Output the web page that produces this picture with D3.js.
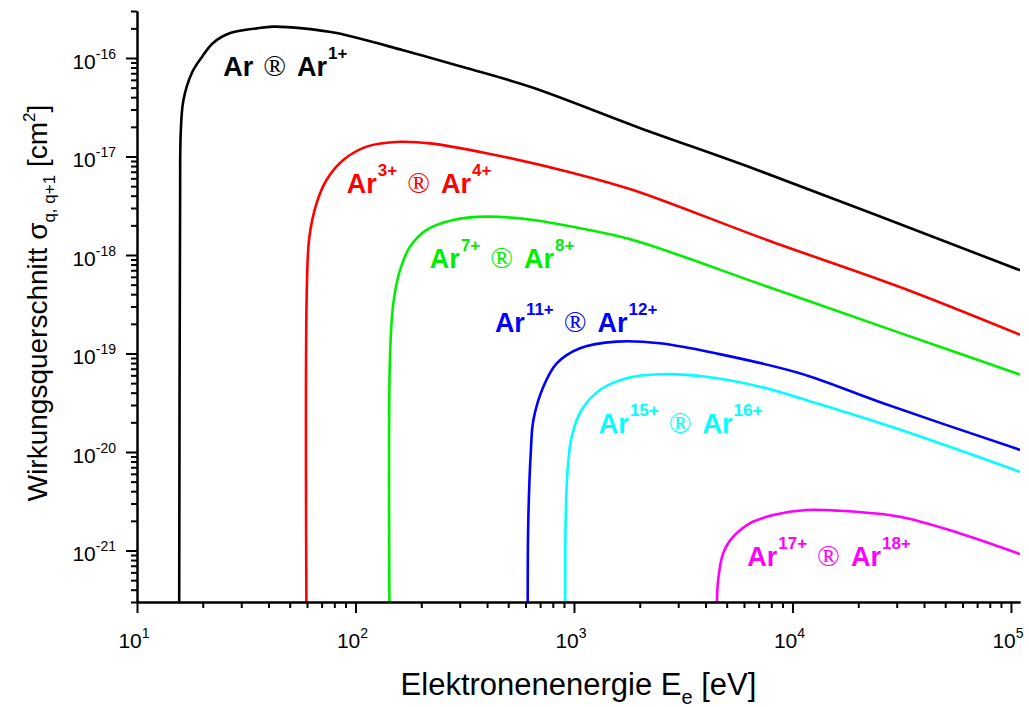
<!DOCTYPE html>
<html>
<head>
<meta charset="utf-8">
<script src="https://cdn.jsdelivr.net/npm/d3@7"></script>
<style>
  body { margin: 0; background: #fff; }
  text { font-family: "Liberation Sans", Arial, sans-serif; }
</style>
</head>
<body>
<div id="canvas"></div>
<script>
// electron energy [eV] and cross section [cm^2]
var eAr0  = [15.6, 15.75, 15.85, 16.3, 17.8, 19.8, 22.3, 26.7, 35.3, 41.9, 57.5, 82, 165, 310, 630, 2000, 6900, 110000];
var sAr0  = [3e-22, 3.6e-18, 1.7e-17, 3.7e-17, 7.0e-17, 1.02e-16, 1.42e-16, 1.79e-16, 2.0e-16, 2.08e-16, 2.0e-16, 1.79e-16, 1.2e-16, 8.1e-17, 5.1e-17, 1.95e-17, 7.3e-18, 7.0e-19];

var eAr3  = [59.6, 59.9, 61.5, 66.4, 73.7, 87.9, 112.5, 160, 219, 398, 989, 1862, 7640, 31000, 110000];
var sAr3  = [3e-22, 4.7e-19, 1.52e-18, 3.37e-18, 5.77e-18, 9.2e-18, 1.26e-17, 1.41e-17, 1.36e-17, 1.08e-17, 6.8e-18, 4.57e-18, 1.42e-18, 4.73e-19, 1.55e-19];

var eAr7  = [143, 144, 149, 160, 177.6, 211.5, 280, 398, 652, 1064, 1862, 7640, 31000, 110000];
var sAr7  = [3e-22, 1.0e-19, 3.23e-19, 7.05e-19, 1.21e-18, 1.80e-18, 2.27e-18, 2.45e-18, 2.27e-18, 1.87e-18, 1.42e-18, 4.79e-19, 1.62e-19, 6.1e-20];

var eAr11 = [614, 618, 634, 652, 724, 834, 1065, 1567, 2475, 4497, 10800, 26000, 110000];
var sAr11 = [3e-22, 2.04e-21, 9.7e-21, 2.11e-20, 4.6e-20, 7.94e-20, 1.13e-19, 1.32e-19, 1.27e-19, 1.0e-19, 6.3e-20, 3.12e-20, 1.05e-20];

var eAr15 = [912, 916, 935, 976, 1083, 1315, 1742, 2475, 4045, 7100, 12900, 31400, 110000];
var sAr15 = [3e-22, 2.04e-21, 6.56e-21, 1.43e-20, 2.67e-20, 4.26e-20, 5.6e-20, 6.15e-20, 5.81e-20, 4.6e-20, 3.12e-20, 1.67e-20, 6.3e-21];

var eAr17 = [4510, 4570, 4820, 5355, 6385, 8165, 11600, 16500, 31000, 58500, 110000];
var sAr17 = [3e-22, 5.0e-22, 9.4e-22, 1.38e-21, 1.89e-21, 2.29e-21, 2.58e-21, 2.53e-21, 2.2e-21, 1.49e-21, 9.2e-22];

// charge states (from -> to) for the labels
var qFrom = ["", "3+", "7+", "11+", "15+", "17+"];
var qTo   = ["1+", "4+", "8+", "12+", "16+", "18+"];
// label anchor in data units (energy, cross section)
var labelE   = [24.8, 91.2, 219, 434.5, 1300, 6210];
var labelSig = [6.56e-17, 4.28e-18, 7.33e-19, 1.66e-19, 1.55e-20, 6.97e-22];

var colors = ["#000000", "#ff0000", "#00ee00", "#0000ff", "#00ffff", "#ff00ff"];

var xTickExp = [1, 2, 3, 4, 5];
var yTickExp = [-21, -20, -19, -18, -17, -16];

var series = [
  d3.zip(eAr0, sAr0), d3.zip(eAr3, sAr3), d3.zip(eAr7, sAr7),
  d3.zip(eAr11, sAr11), d3.zip(eAr15, sAr15), d3.zip(eAr17, sAr17)
];

draw();

function draw(){
  var w = 1029, h = 707;
  var left = 137, right = 1020, top = 11, bottom = 602;

  var svg = d3.select("#canvas").append("svg")
    .attr("width", w)
    .attr("height", h);

  var x = d3.scaleLog().domain([10, 1.1e5]).range([left, right]);
  var y = d3.scaleLog().domain([3e-22, 3e-16]).range([bottom, top]);

  svg.append("clipPath").attr("id", "clip")
    .append("rect")
    .attr("x", left).attr("y", top - 5)
    .attr("width", right - left).attr("height", bottom - top + 5);

  // curves
  var line = d3.line()
    .x(function(d){ return x(d[0]); })
    .y(function(d){ return y(d[1]); })
    .curve(d3.curveCatmullRom.alpha(0.5));

  svg.append("g").attr("clip-path", "url(#clip)")
    .selectAll("path")
    .data(series)
    .join("path")
    .attr("d", line)
    .attr("fill", "none")
    .attr("stroke", function(d, i){ return colors[i]; })
    .attr("stroke-width", 2.6)
    .attr("stroke-linejoin", "round");

  // axes: minor ticks, then major ticks
  function isMajor(d){ return Math.abs(Math.log10(d) - Math.round(Math.log10(d))) < 1e-6; }
  var xt = x.ticks();
  var yt = y.ticks();

  function styleAxis(g){
    g.select(".domain").attr("stroke", "#000").attr("stroke-width", 2);
    g.selectAll(".tick line").attr("stroke", "#000").attr("stroke-width", 2);
  }

  svg.append("g").attr("transform", "translate(0," + bottom + ")")
    .call(d3.axisBottom(x).tickValues(xt.filter(function(d){ return !isMajor(d); }))
      .tickSize(6).tickSizeOuter(0).tickFormat(""))
    .call(styleAxis);
  svg.append("g").attr("transform", "translate(0," + bottom + ")")
    .call(d3.axisBottom(x).tickValues(xt.filter(isMajor))
      .tickSize(11).tickSizeOuter(0).tickFormat(""))
    .call(styleAxis);

  svg.append("g").attr("transform", "translate(" + left + ",0)")
    .call(d3.axisLeft(y).tickValues(yt.filter(function(d){ return !isMajor(d); }))
      .tickSize(6).tickSizeOuter(0).tickFormat(""))
    .call(styleAxis);
  svg.append("g").attr("transform", "translate(" + left + ",0)")
    .call(d3.axisLeft(y).tickValues(yt.filter(isMajor))
      .tickSize(11).tickSizeOuter(0).tickFormat(""))
    .call(styleAxis);

  // tick labels 10^n
  var xl = svg.append("g").selectAll("text")
    .data(xTickExp).join("text")
    .attr("x", function(d){ return x(Math.pow(10, d)) - 3; })
    .attr("y", bottom + 46)
    .attr("text-anchor", "middle")
    .attr("font-size", 21);
  xl.append("tspan").text("10");
  xl.append("tspan").attr("dy", -10).attr("font-size", 14).text(function(d){ return d; });

  var yl = svg.append("g").selectAll("text")
    .data(yTickExp).join("text")
    .attr("x", 116)
    .attr("y", function(d){ return y(Math.pow(10, d)) + 11; })
    .attr("text-anchor", "end")
    .attr("font-size", 21);
  yl.append("tspan").text("10");
  yl.append("tspan").attr("dy", -10).attr("font-size", 14).text(function(d){ return d; });

  // axis titles
  var xt2 = svg.append("text")
    .attr("x", (left + right) / 2)
    .attr("y", 695)
    .attr("text-anchor", "middle")
    .attr("font-size", 31);
  xt2.append("tspan").text("Elektronenenergie E");
  xt2.append("tspan").attr("dy", 9).attr("font-size", 20).text("e");
  xt2.append("tspan").attr("dy", -9).text(" [eV]");

  var yt2 = svg.append("text")
    .attr("transform", "translate(47," + 303 + ") rotate(-90)")
    .attr("text-anchor", "middle")
    .attr("font-size", 28);
  yt2.append("tspan").text("Wirkungsquerschnitt σ");
  yt2.append("tspan").attr("dy", 8).attr("font-size", 17).text("q, q+1");
  yt2.append("tspan").attr("dy", -8).text(" [cm");
  yt2.append("tspan").attr("dy", -12).attr("font-size", 17).text("2");
  yt2.append("tspan").attr("dy", 12).text("]");

  // curve labels
  var lab = svg.append("g").selectAll("text")
    .data(qFrom).join("text")
    .attr("x", function(d, i){ return x(labelE[i]); })
    .attr("y", function(d, i){ return y(labelSig[i]); })
    .attr("fill", function(d, i){ return colors[i]; })
    .attr("font-size", 27)
    .attr("font-weight", "bold");
  lab.append("tspan").text("Ar");
  lab.filter(function(d){ return d !== ""; })
    .append("tspan").attr("dy", -17).attr("dx", 1).attr("font-size", 17)
    .text(function(d){ return d; });
  lab.append("tspan")
    .attr("dy", function(d){ return d ? 17 : 0; })
    .attr("dx", 10)
    .attr("font-size", 30)
    .attr("font-family", "'Liberation Serif', 'Times New Roman', serif")
    .attr("font-weight", "normal")
    .text("®");
  lab.append("tspan").attr("dx", 11).text("Ar");
  lab.append("tspan").attr("dy", -17).attr("dx", 1).attr("font-size", 17)
    .text(function(d, i){ return qTo[i]; });
}
</script>
</body>
</html>
